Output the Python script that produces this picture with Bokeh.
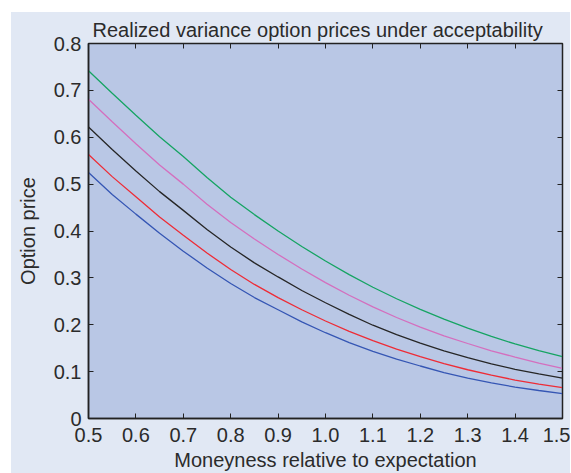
from bokeh.plotting import figure
from bokeh.models import LinearAxis, FixedTicker, Range1d, CustomJSTickFormatter
from bokeh.embed import file_html
from bokeh.resources import INLINE

moneyness = [0.5, 0.55, 0.6, 0.65, 0.7, 0.75, 0.8, 0.85, 0.9, 0.95, 1.0,
             1.05, 1.1, 1.15, 1.2, 1.25, 1.3, 1.35, 1.4, 1.45, 1.5]
green = [0.742, 0.694, 0.647, 0.601, 0.559, 0.514, 0.472, 0.435, 0.400, 0.367, 0.336,
         0.307, 0.280, 0.2555, 0.233, 0.212, 0.193, 0.175, 0.159, 0.145, 0.132]
magenta = [0.681, 0.633, 0.586, 0.541, 0.500, 0.457, 0.418, 0.383, 0.350, 0.319, 0.290,
           0.263, 0.238, 0.2155, 0.195, 0.1765, 0.160, 0.1445, 0.131, 0.118, 0.107]
black = [0.622, 0.574, 0.528, 0.484, 0.444, 0.403, 0.366, 0.332, 0.302, 0.273, 0.247,
         0.222, 0.199, 0.179, 0.161, 0.1445, 0.130, 0.1165, 0.105, 0.095, 0.086]
red = [0.563, 0.516, 0.473, 0.430, 0.391, 0.353, 0.318, 0.286, 0.258, 0.232, 0.208,
       0.186, 0.166, 0.148, 0.132, 0.117, 0.104, 0.0925, 0.082, 0.0735, 0.066]
blue = [0.525, 0.478, 0.436, 0.395, 0.357, 0.321, 0.288, 0.258, 0.232, 0.206, 0.183,
        0.162, 0.143, 0.1265, 0.112, 0.098, 0.086, 0.076, 0.067, 0.0597, 0.053]

x_ticks = [0.5, 0.6, 0.7, 0.8, 0.9, 1.0, 1.1, 1.2, 1.3, 1.4, 1.5]
x_tick_labels = ["0.5", "0.6", "0.7", "0.8", "0.9", "1.0", "1.1", "1.2", "1.3", "1.4", "1.5"]
y_ticks = [0, 0.1, 0.2, 0.3, 0.4, 0.5, 0.6, 0.7, 0.8]
y_tick_labels = ["0", "0.1", "0.2", "0.3", "0.4", "0.5", "0.6", "0.7", "0.8"]

FONT = "Liberation Sans"
TXT = "#2b2b2b"
AX = "#222222"
OUTER = "#e1e8f4"

p = figure(width=559, height=461, output_backend="svg", toolbar_location=None,
           x_range=Range1d(0.5, 1.5), y_range=Range1d(0, 0.8),
           min_border_left=77, min_border_right=8, min_border_top=31, min_border_bottom=55,
           background_fill_color="#b9c7e5", border_fill_color=OUTER)
p.margin = (12, 0, 0, 11)
p.styles = {"background-color": OUTER}
p.grid.visible = False
p.outline_line_color = AX
p.outline_line_width = 1.5

p.title.text = "Realized variance option prices under acceptability"
p.title.text_font = FONT
p.title.text_font_size = "20px"
p.title.text_font_style = "normal"
p.title.text_color = TXT
p.title.offset = 4
p.title.standoff = 5

for ax in (p.xaxis[0], p.yaxis[0]):
    ax.major_label_text_font = FONT
    ax.major_label_text_font_size = "20px"
    ax.major_label_text_color = TXT
    ax.axis_label_text_font = FONT
    ax.axis_label_text_font_size = "20px"
    ax.axis_label_text_font_style = "normal"
    ax.axis_label_text_color = TXT
    ax.major_tick_in = 5
    ax.major_tick_out = 0
    ax.minor_tick_line_color = None
    ax.axis_line_color = AX
    ax.axis_line_width = 1.5
    ax.major_tick_line_color = AX

p.xaxis[0].ticker = FixedTicker(ticks=x_ticks)
p.xaxis[0].major_label_overrides = dict(zip(x_ticks, x_tick_labels))
p.xaxis[0].axis_label = "Moneyness relative to expectation"
p.xaxis[0].major_label_standoff = 9
p.xaxis[0].axis_label_standoff = 4
p.yaxis[0].ticker = FixedTicker(ticks=y_ticks)
p.yaxis[0].major_label_overrides = dict(zip(y_ticks, y_tick_labels))
p.yaxis[0].axis_label = "Option price"
p.yaxis[0].major_label_standoff = 7
p.yaxis[0].axis_label_standoff = 12

blank = CustomJSTickFormatter(code="return ''")
top = LinearAxis(ticker=FixedTicker(ticks=x_ticks), formatter=blank,
                 major_tick_in=5, major_tick_out=0, minor_tick_line_color=None,
                 axis_line_color=AX, major_tick_line_color=AX, major_label_standoff=0)
right = LinearAxis(ticker=FixedTicker(ticks=y_ticks), formatter=blank,
                   major_tick_in=5, major_tick_out=0, minor_tick_line_color=None,
                   axis_line_color=AX, major_tick_line_color=AX, major_label_standoff=0)
p.add_layout(top, "above")
p.add_layout(right, "right")

for ys, c in ((green, "#16a463"), (magenta, "#d46fbe"), (black, "#262626"),
              (red, "#ee2c36"), (blue, "#3556b4")):
    p.line(moneyness, ys, line_color=c, line_width=1.3)

open("out.html", "w").write(file_html(p, INLINE))
